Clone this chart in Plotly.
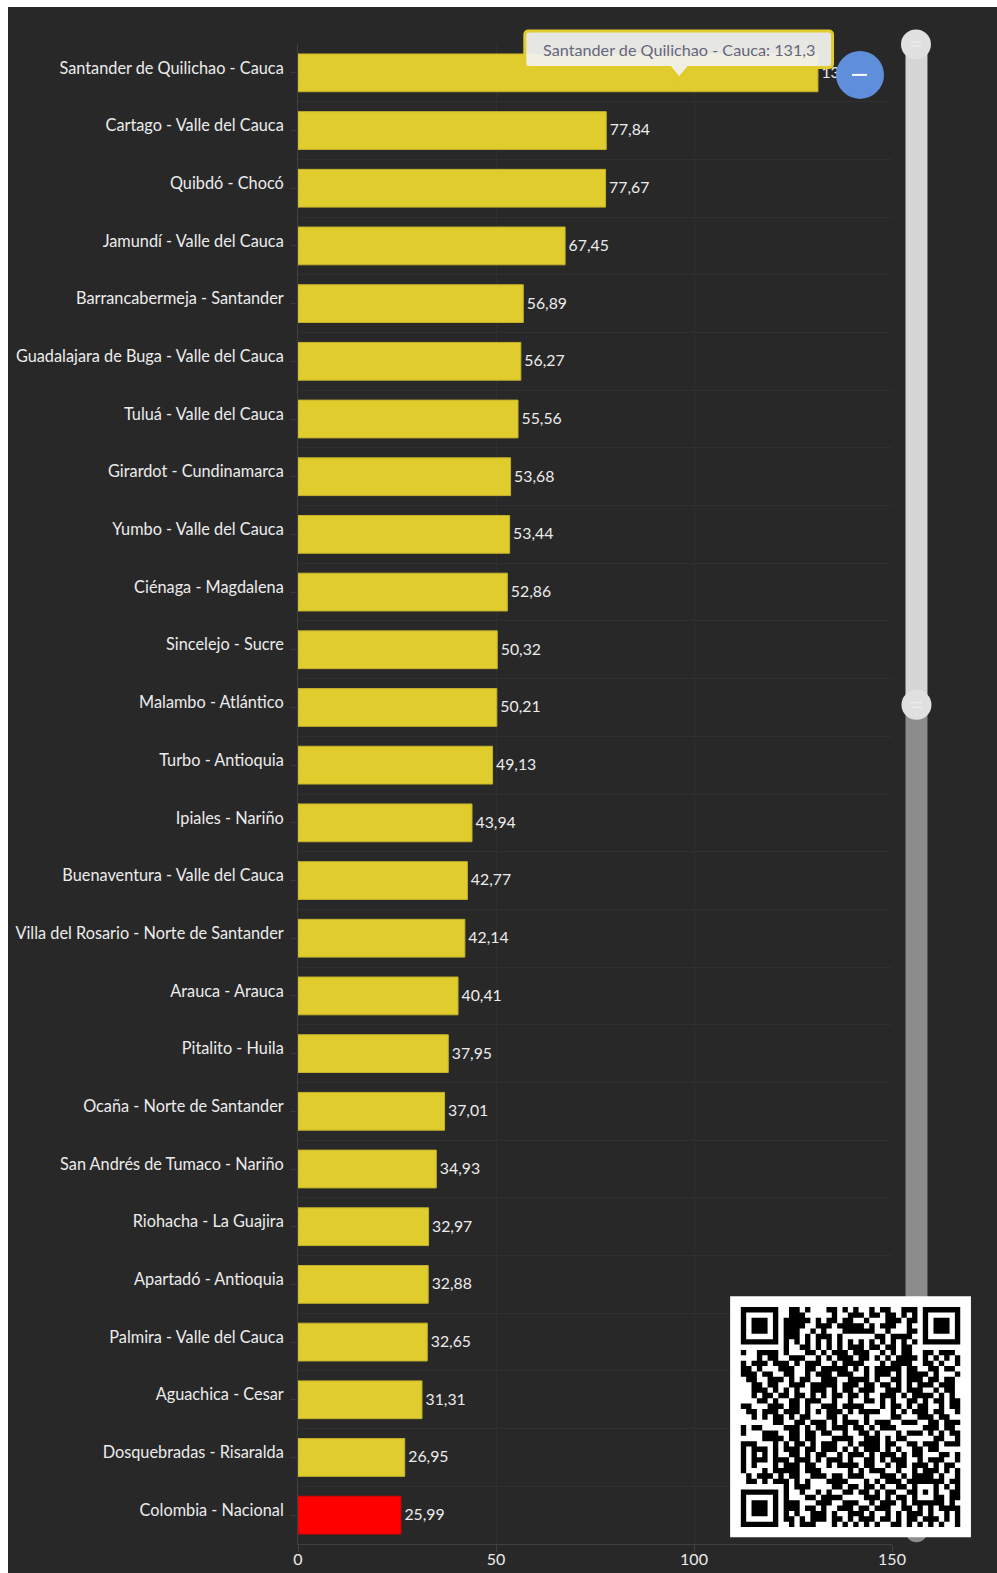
import plotly.graph_objects as go

categories = [
    "Santander de Quilichao - Cauca", "Cartago - Valle del Cauca", "Quibdó - Chocó",
    "Jamundí - Valle del Cauca", "Barrancabermeja - Santander",
    "Guadalajara de Buga - Valle del Cauca", "Tuluá - Valle del Cauca",
    "Girardot - Cundinamarca", "Yumbo - Valle del Cauca", "Ciénaga - Magdalena",
    "Sincelejo - Sucre", "Malambo - Atlántico", "Turbo - Antioquia", "Ipiales - Nariño",
    "Buenaventura - Valle del Cauca", "Villa del Rosario - Norte de Santander",
    "Arauca - Arauca", "Pitalito - Huila", "Ocaña - Norte de Santander",
    "San Andrés de Tumaco - Nariño", "Riohacha - La Guajira", "Apartadó - Antioquia",
    "Palmira - Valle del Cauca", "Aguachica - Cesar", "Dosquebradas - Risaralda",
    "Colombia - Nacional",
]
values = [131.3, 77.84, 77.67, 67.45, 56.89, 56.27, 55.56, 53.68, 53.44, 52.86, 50.32, 50.21,
          49.13, 43.94, 42.77, 42.14, 40.41, 37.95, 37.01, 34.93, 32.97, 32.88, 32.65, 31.31,
          26.95, 25.99]
value_labels = ["131,3", "77,84", "77,67", "67,45", "56,89", "56,27", "55,56", "53,68", "53,44",
                "52,86", "50,32", "50,21", "49,13", "43,94", "42,77", "42,14", "40,41", "37,95",
                "37,01", "34,93", "32,97", "32,88", "32,65", "31,31", "26,95", "25,99"]
x_ticks = [0, 50, 100, 150]
tooltip_text = "Santander de Quilichao - Cauca: 131,3"

qr_left = [
    "#######..##.#...##.#.", "#.....#..###.....#..#", "#.###.#.#####.#.##.##", "#.###.#.####..###.###",
    "#.###.#.###..#.#...##", "#.....#.###.#.###.#..", "#######.#.#.#.#.#.#.#", "........#..##.#.#.#.#",
    "#..####.#...##.#.###.", "...#.##..###..#.#.###", "#.###.###.#.###..#.##", "##.#...###..##.#####.",
    "###.##..##..#.###.###", ".##..###.#.##..###..#", "..##.##..###.#####.##", "..###.#.#.#..###.#.##",
    "..#.##.##.##.#.#.##.#", "...##.#..##.###..#..#", "##...###.##.#..###.##", ".##.###.###.#.#.###.#",
    "..#.#.##.#.##...##.#.", "......##..##.###.#.##", "#.##....###.#.##.###.", "#...###..##.##.##..#.",
    "....####.##.##...####", "###...#.#.##.#.###..#", "#.###.#.###.##.###.#.", "#.#.#.#..##.#.##..#.#",
    "#.###.###.###.#.###.#", "#.#...#.###.##..#.###", "#...#.#####.###.....#", ".#.###.#.##..###.##.#",
    ".##.#.###.#.#...####.", "........#.###....##.#", "#######.#..#..#.#..##", "#.....#.#...##.####..",
    "#.###.#.###...###..##", "#.###.#.###.##.#..###", "#.###.#.#.#..###.#..#", "#.....#.##.#.###.##.#",
    "#######..#.###...#.#.",
]
qr_right = [
    "#..#.##..###.#######", "##.##.##.#.#.#.....#", "..#...###.##.#.###.#", "##.#.###..#..#.###.#",
    "####..#...##.#.###.#", "....##.####..#.....#", ".#.#.#.#.#.#.#######", "##.##.##.##.........",
    "###..#.#.##..##.###.", ".##.#.#.####.#.#.#.#", "##...#.####..##.#..#", "#.#.#####.##..##.##.",
    "..#.###.#.####.#...#", "###.#..##.###.##.##.", "#.##.##.#.#.###.###.", ".###..###.###..#.##.",
    "#.#..###.#.####.#.#.", "..##.#.#..##.#.##.##", "##...#.##.#.##..#.##", ".####..#.#.###.##..#",
    "..#....##...###.##..", "#.#.###..###..##.###", "##.#.###.....###.##.", ".##.#...#.###.#.#.##",
    "..###.#.##.....##..#", ".####.##..##.###.###", "#.###.#.#..##.##....", "##.#.###.#.##...##.#",
    "..##.#.###..#.###..#", "#.##..#.##.###.#.##.", ".#.###..#..#.###.#.#", "##...###.#.####.#..#",
    "..#.#.###.#.#####.##", "#.##.#..##.#...#.#.#", ".##.#.##..##.#.#..##", "..###.#.##.##...#.##",
    "#..#.###.#.######.#.", ".##.###..##.#.#.####", "##.#..#.#.###.#..#.#", ".###.##.#.##.###.#.#",
    "#.#.#..##.#.#.#.#..#",
]

# ---- page geometry (px on the page) ----
OX, OY = 8, 7
PW, PH = 997, 1573
L, R, T, B = 297.5, 892.0, 43.6, 1543.8


def X(p):
    return (p - L) / (R - L)


def Y(p):
    return (B - p) / (B - T)


def rect(x0, y0, x1, y1, fill, line=None, lw=0):
    return dict(type="rect", xref="paper", yref="paper", x0=X(x0), x1=X(x1), y0=Y(y0), y1=Y(y1),
                fillcolor=fill, line=dict(color=line or fill, width=lw), layer="above")


def circle(cx, cy, r, fill):
    return dict(type="circle", xref="paper", yref="paper", x0=X(cx - r), x1=X(cx + r), y0=Y(cy - r),
                y1=Y(cy + r), fillcolor=fill, line=dict(width=0), layer="above")


def seg(x0, y0, x1, y1, color, w):
    return dict(type="line", xref="paper", yref="paper", x0=X(x0), x1=X(x1), y0=Y(y0), y1=Y(y1),
                line=dict(color=color, width=w), layer="above")


def tooltip_path(x0, y0, x1, y1, r, tip_x, tip_y):
    pts = [f"M{X(x0 + r)},{Y(y0)}", f"L{X(x1 - r)},{Y(y0)}", f"Q{X(x1)},{Y(y0)} {X(x1)},{Y(y0 + r)}",
           f"L{X(x1)},{Y(y1 - r)}", f"Q{X(x1)},{Y(y1)} {X(x1 - r)},{Y(y1)}",
           f"L{X(tip_x + 9)},{Y(y1)}", f"L{X(tip_x)},{Y(tip_y)}", f"L{X(tip_x - 9)},{Y(y1)}",
           f"L{X(x0 + r)},{Y(y1)}", f"Q{X(x0)},{Y(y1)} {X(x0)},{Y(y1 - r)}",
           f"L{X(x0)},{Y(y0 + r)}", f"Q{X(x0)},{Y(y0)} {X(x0 + r)},{Y(y0)}", "Z"]
    return " ".join(pts)


# ---- QR modules ----
N = 41
grid = [list((a.ljust(21, ".")[:21] + b.ljust(20, ".")[:20])) for a, b in zip(qr_left, qr_right)]
for rr, row in enumerate([[1, 1, 1, 1, 1], [1, 0, 0, 0, 1], [1, 0, 1, 0, 1], [1, 0, 0, 0, 1], [1, 1, 1, 1, 1]]):
    for cc, v in enumerate(row):
        grid[32 + rr][32 + cc] = "#" if v else "."
QX0, QX1, QY0, QY1 = 740.7, 960.3, 1306.8, 1526.8
mw, mh = (QX1 - QX0) / N, (QY1 - QY0) / N
parts = []
for r_i, row in enumerate(grid):
    c_i = 0
    while c_i < N:
        if row[c_i] == "#":
            c_e = c_i
            while c_e + 1 < N and row[c_e + 1] == "#":
                c_e += 1
            x0, x1 = QX0 + c_i * mw, QX0 + (c_e + 1) * mw
            y0, y1 = QY0 + r_i * mh, QY0 + (r_i + 1) * mh
            parts.append(f"M{X(x0)},{Y(y0)} L{X(x1)},{Y(y0)} L{X(x1)},{Y(y1)} L{X(x0)},{Y(y1)} Z")
            c_i = c_e + 1
        else:
            c_i += 1
qr_path = " ".join(parts)

YELLOW = "#e0cc2d"
colors = [YELLOW] * (len(categories) - 1) + ["#ff0000"]
line_colors = ["#c4b22c"] * (len(categories) - 1) + ["#d80000"]
TXT = "#ececec"
GRID = "#2f2f2f"
AXIS = "#404040"
FONT = "Lato, 'Open Sans', sans-serif"
n = len(categories)
row_px = (B - T) / n
label_lift = -1 / row_px  # fine vertical placement of the value labels

fig = go.Figure()
# Empty carrier of the base category axis, whose grid lies under the bars
fig.add_trace(go.Bar(x=[0] * n, y=categories, orientation="h", yaxis="y",
                     marker=dict(color="rgba(0,0,0,0)"), hoverinfo="skip", showlegend=False))
fig.add_trace(go.Bar(x=values, y=categories, orientation="h", yaxis="y2",
                     marker=dict(color=colors, line=dict(color=line_colors, width=1)),
                     hovertemplate="%{y}: %{customdata}<extra></extra>", customdata=value_labels,
                     showlegend=False, width=0.655))
fig.add_trace(go.Scatter(x=values, y=categories, yaxis="y3", mode="markers+text", text=value_labels,
                         marker=dict(size=4, color="rgba(0,0,0,0)"),
                         textposition="middle right", cliponaxis=False, hoverinfo="skip",
                         textfont=dict(size=15.8, color=TXT, family=FONT), showlegend=False))

shapes = [
    # slider
    rect(905.5, 44, 927.5, 705, "#d6d6d6"),
    rect(905.5, 705, 927.5, 1531, "#8c8c8c"),
    circle(916.5, 1531, 11, "#8c8c8c"),
    circle(916, 44, 15, "#e0e0e0"),
    seg(911, 41.5, 921, 41.5, "#f2f2f2", 1),
    seg(911, 45.5, 921, 45.5, "#f2f2f2", 1),
    circle(916.5, 704.5, 15, "#e0e0e0"),
    seg(911, 702.5, 922, 702.5, "#f2f2f2", 1),
    seg(911, 707, 922, 707, "#f2f2f2", 1),
    # minus button
    circle(860, 74.5, 24, "#5f8fdb"),
    seg(852, 74.5, 867, 74.5, "#ffffff", 2),
    # tooltip
    dict(type="path", xref="paper", yref="paper", path=tooltip_path(524.5, 30.5, 832.5, 67, 4, 679, 78),
         fillcolor="rgba(240,240,236,0.95)", line=dict(color=YELLOW, width=3), layer="above"),
    # QR
    rect(730, 1296, 971, 1537, "#ffffff"),
    dict(type="path", xref="paper", yref="paper", path=qr_path, fillcolor="#000000",
         line=dict(width=0), layer="above"),
]

fig.update_layout(
    width=PW - OX, height=PH - OY, autosize=False,
    margin=dict(l=L - OX, r=PW - R, t=T - OY, b=PH - B, pad=0, autoexpand=False),
    paper_bgcolor="#282828", plot_bgcolor="#282828",
    font=dict(family=FONT, color=TXT, size=15),
    barmode="overlay", showlegend=False, bargap=0.34,
    hoverlabel=dict(bgcolor="#f0f0ec", bordercolor=YELLOW, font=dict(color="#66667a")),
    xaxis=dict(range=[0, 150], tickmode="array", tickvals=x_ticks, ticktext=[str(v) for v in x_ticks],
               showgrid=True, gridcolor=GRID, gridwidth=1, zeroline=False, showline=True,
               linecolor=AXIS, linewidth=1, ticks="outside", ticklen=7, tickcolor=AXIS,
               ticklabelstandoff=-6, tickfont=dict(size=16, color=TXT, family=FONT), fixedrange=True),
    yaxis=dict(type="category", categoryorder="array", categoryarray=categories,
               range=[n - 0.5, -0.5], tickson="boundaries", showgrid=True,
               gridcolor=GRID, gridwidth=1, zeroline=False, showline=True, linecolor=AXIS,
               linewidth=1, ticks="", showticklabels=True, ticklabelstandoff=10, ticklabelshift=5,
               tickfont=dict(size=16.3, color=TXT, family=FONT), fixedrange=True),
    yaxis2=dict(type="category", categoryorder="array", categoryarray=categories,
                range=[n - 0.5, -0.5], overlaying="y", side="left", showgrid=False,
                zeroline=False, showline=False, ticks="outside", ticklen=7, tickcolor="#383838",
                showticklabels=False, fixedrange=True),
    yaxis3=dict(type="category", categoryorder="array", categoryarray=categories,
                range=[n - 0.5 + label_lift, -0.5 + label_lift], overlaying="y", side="left",
                showgrid=False, zeroline=False, showline=False, ticks="", showticklabels=False,
                fixedrange=True),
    shapes=shapes,
    annotations=[dict(text=tooltip_text, xref="paper", yref="paper", x=X(679), y=Y(49.5), showarrow=False,
                      xanchor="center", yanchor="middle",
                      font=dict(size=16.2, color="#66667a", family=FONT))],
)

fig.write_html(
    "out.html",
    config={"displayModeBar": False},
    post_script="document.body.style.margin='7px 0 0 8px';document.body.style.background='#ffffff';"
                "document.documentElement.style.overflow='hidden';",
)
